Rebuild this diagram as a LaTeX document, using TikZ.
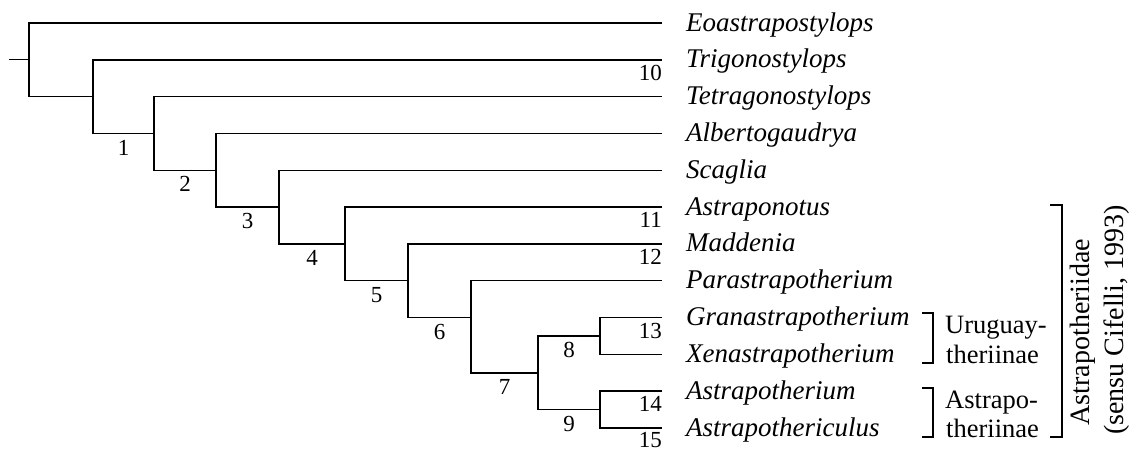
\documentclass[tikz,border=0pt]{standalone}
\usepackage{fontspec}
\setmainfont{Liberation Serif}
\usetikzlibrary{calc}
\begin{document}
\begin{tikzpicture}[x=1pt,y=-1pt,
  branch/.style={line width=1.5pt},
  stem/.style={line width=0.9pt},
  brk/.style={line width=2.6pt, line join=miter},
  taxon/.style={anchor=base west, inner sep=0pt, font=\fontsize{27}{30}\selectfont\itshape},
  tipnum/.style={anchor=base east, inner sep=0pt, font=\fontsize{23}{26}\selectfont},
  brnum/.style={anchor=base, inner sep=0pt, font=\fontsize{23}{26}\selectfont},
  clade/.style={anchor=base west, inner sep=0pt, font=\fontsize{26.5}{30}\selectfont},
  family/.style={rotate=90, inner sep=0pt, font=\fontsize{28}{32}\selectfont}]
\path[use as bounding box] (0,0) rectangle (1132,451);

% tips (branch ends) and taxon names
\foreach \k/\nm/\lab in {0/eo/Eoastrapostylops, 1/tri/Trigonostylops, 2/tet/Tetragonostylops,
  3/alb/Albertogaudrya, 4/sca/Scaglia, 5/asn/Astraponotus, 6/mad/Maddenia,
  7/par/Parastrapotherium, 8/gra/Granastrapotherium, 9/xen/Xenastrapotherium,
  10/ath/Astrapotherium, 11/acu/Astrapothericulus}{
  \coordinate (\nm) at (662,{23+36.82*\k});
  \node[taxon] (\nm-name) at (686,{31+36.82*\k}) {\lab};
}

% internal nodes
\coordinate (r)   at (29,59.8);
\coordinate (rs)  at (9,59.8);
\coordinate (n1)  at (93,96.6);
\coordinate (n2)  at (154,133.5);
\coordinate (n3)  at (216,170.3);
\coordinate (n4)  at (279,207.1);
\coordinate (n5)  at (345,243.9);
\coordinate (n6)  at (408,280.7);
\coordinate (n7)  at (471,317.6);
\coordinate (n8)  at (538,372.8);
\coordinate (n9)  at (600,336.0);
\coordinate (n10) at (600,409.6);

% tree
\draw[stem] (rs) -- (r);
\draw[branch] (eo)  -| (r)  |- (n1);
\draw[branch] (tri) -| (n1) |- (n2);
\draw[branch] (tet) -| (n2) |- (n3);
\draw[branch] (alb) -| (n3) |- (n4);
\draw[branch] (sca) -| (n4) |- (n5);
\draw[branch] (asn) -| (n5) |- (n6);
\draw[branch] (mad) -| (n6) |- (n7);
\draw[branch] (par) -| (n7) |- (n8);
\draw[branch] (n9)  -| (n8) |- (n10);
\draw[branch] (gra) -| (n9) |- (xen);
\draw[branch] (ath) -| (n10) |- (acu);

% branch numbers
\node[brnum] (b1) at (123.5,155) {1};
\node[brnum] (b2) at (185,191.8) {2};
\node[brnum] (b3) at (247.5,228.6) {3};
\node[brnum] (b4) at (312,265.4) {4};
\node[brnum] (b5) at (376.5,302.2) {5};
\node[brnum] (b6) at (439.5,339.1) {6};
\node[brnum] (b7) at (504.5,394.3) {7};
\node[brnum] (b8) at (569,357.5) {8};
\node[brnum] (b9) at (569,431.1) {9};
\node[tipnum] (t10) at ($(tri)+(0,20.5)$) {10};
\node[tipnum] (t11) at ($(asn)+(0,20.5)$) {11};
\node[tipnum] (t12) at ($(mad)+(0,20.5)$) {12};
\node[tipnum] (t13) at ($(gra)+(0,20.5)$) {13};
\node[tipnum] (t14) at ($(ath)+(0,20.5)$) {14};
\node[tipnum] (t15) at ($(acu)+(0,19)$) {15};

% clade brackets
\coordinate (u1) at (922,313);
\coordinate (u2) at (922,363);
\coordinate (a1) at (922,388);
\coordinate (a2) at (922,437);
\coordinate (f1) at (1050,205);
\coordinate (f2) at (1050,437);
\draw[brk] (u1) -- ++(11,0) |- (u2);
\draw[brk] (a1) -- ++(11,0) |- (a2);
\draw[brk] (f1) -- ++(12,0) |- (f2);

\node[clade] (uru1) at (945,333) {Uruguay-};
\node[clade] (uru2) at (946,363) {theriinae};
\node[clade] (ast1) at (945,408) {Astrapo-};
\node[clade] (ast2) at (946,437) {theriinae};

\node[family] (fam1) at (1083,332) {Astrapotheriidae};
\node[family] (fam2) at (1117,320) {(sensu Cifelli, 1993)};
\end{tikzpicture}
\end{document}
